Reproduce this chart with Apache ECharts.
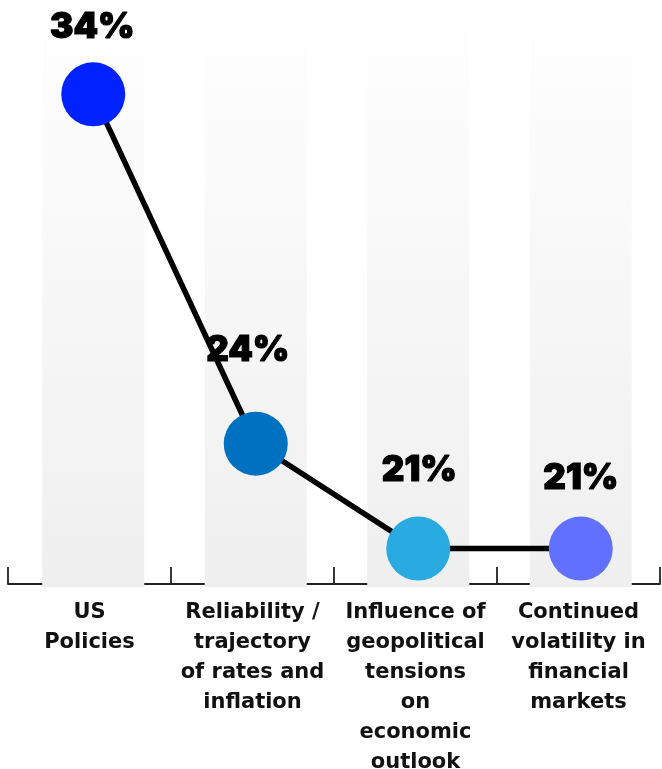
<!DOCTYPE html>
<html>
<head>
<meta charset="utf-8">
<script src="https://cdn.jsdelivr.net/npm/echarts@6/dist/echarts.min.js"></script>
<style>
  html, body { margin: 0; padding: 0; background: #ffffff; }
  #chart { width: 662px; height: 769px; }
</style>
</head>
<body>
<div id="chart"></div>
<script>
// Top concerns, share of respondents (%)
const categories = [
  'US\nPolicies',
  'Reliability /\ntrajectory\nof rates and\ninflation',
  'Influence of\ngeopolitical\ntensions\non\neconomic\noutlook',
  'Continued\nvolatility in\nfinancial\nmarkets'
];
const shares = [34, 24, 21, 21];
const pointColors = ['#0022ff', '#0070c0', '#29abe2', '#6170ff'];

// value-axis range of the plotting area
const Y_MIN = 19.9;
const Y_MAX = 36.7;

// label placement relative to each marker centre
const labelShift = [[-1, -67], [-8, -93], [1, -78], [0, -70]];

const chart = echarts.init(document.getElementById('chart'), null, { renderer: 'canvas' });

const option = {
  backgroundColor: '#ffffff',
  animation: false,
  grid: [
    { left: 12, right: 0, top: 0, bottom: 182, outerBoundsMode: 'none', containLabel: false },   // marks
    { left: 8, right: 2, top: 0, bottom: 185, outerBoundsMode: 'none', containLabel: false }     // category axis
  ],
  xAxis: [
    {
      gridIndex: 0, type: 'category', data: categories,
      axisLine: { show: false }, axisTick: { show: false }, axisLabel: { show: false }
    },
    {
      gridIndex: 1, type: 'category', data: categories, boundaryGap: true,
      axisLine: { show: true, lineStyle: { color: '#222222', width: 1.8 } },
      axisTick: { show: true, inside: true, length: 17, interval: 0, lineStyle: { color: '#222222', width: 1.8 } },
      axisLabel: {
        interval: 0, margin: 14, color: '#111111', hideOverlap: false,
        fontFamily: 'DejaVu Sans', fontWeight: 'bold', fontSize: 21, lineHeight: 30, align: 'center'
      }
    }
  ],
  yAxis: [
    { gridIndex: 0, type: 'value', min: Y_MIN, max: Y_MAX, show: false },
    { gridIndex: 1, type: 'value', min: 0, max: 1, show: false }
  ],
  series: [
    {
      type: 'bar',
      xAxisIndex: 0, yAxisIndex: 0,
      barWidth: 102,
      silent: true,
      itemStyle: {
        color: new echarts.graphic.LinearGradient(0, 0, 0, 1, [
          { offset: 0, color: '#ffffff' },
          { offset: 1, color: '#efefef' }
        ])
      },
      data: categories.map(() => Y_MAX),
      z: 1
    },
    {
      type: 'line',
      xAxisIndex: 0, yAxisIndex: 0,
      symbol: 'circle',
      symbolSize: 64,
      lineStyle: { color: '#000000', width: 5.5 },
      data: shares.map((v, i) => ({
        value: v,
        itemStyle: { color: pointColors[i] },
        label: { offset: labelShift[i] }
      })),
      label: {
        show: true,
        position: 'inside',
        formatter: '{c}%',
        color: '#000000',
        fontFamily: 'Inter',
        fontWeight: 900,
        fontSize: 35,
        textBorderColor: '#000000',
        textBorderWidth: 1.2
      },
      z: 3
    }
  ]
};

chart.setOption(option);
</script>
</body>
</html>
